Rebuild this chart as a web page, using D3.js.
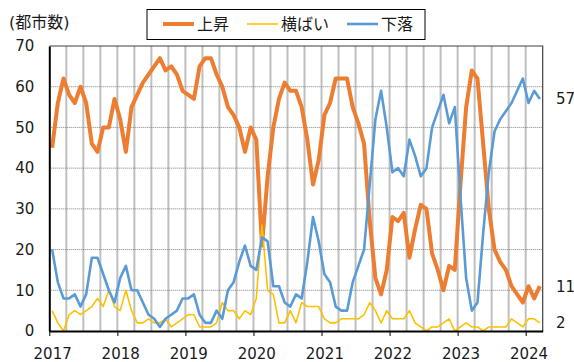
<!DOCTYPE html>
<html>
<head>
<meta charset="utf-8">
<script src="https://cdn.jsdelivr.net/npm/d3@7"></script>
<style>
body { margin: 0; background: #fff; }
text { font-family: 'DejaVu Sans', 'Noto Sans CJK JP', sans-serif; fill: #1a1a1a; }
</style>
</head>
<body>
<svg width="574" height="362"></svg>
<script>

// monthly, Jan 2017 - Mar 2024 (70 cities)
let years = ['2017', '2018', '2019', '2020', '2021', '2022', '2023', '2024'];
let yTicks = [0, 10, 20, 30, 40, 50, 60, 70];
let names = ['上昇', '横ばい', '下落'];

let up = [45, 56, 62, 58, 56, 60, 56, 46, 44, 50, 50, 57,
    52, 44, 55, 58, 61, 63, 65, 67, 64, 65, 63, 59,
    58, 57, 65, 67, 67, 63, 60, 55, 53, 50, 44, 50,
    47, 21, 38, 50, 57, 61, 59, 59, 55, 47, 36, 42,
    53, 56, 62, 62, 62, 55, 51, 46, 27, 13, 9, 15,
    28, 27, 29, 18, 25, 31, 30, 19, 15, 10, 16, 15,
    36, 55, 64, 62, 46, 30, 20, 17, 15, 11, 9, 7,
    11, 8, 11];

let flat = [5, 2, 0, 4, 5, 4, 5, 6, 8, 6, 10, 6,
    5, 10, 5, 2, 2, 3, 2, 2, 3, 1, 2, 3,
    4, 4, 1, 1, 1, 2, 7, 5, 5, 3, 5, 4,
    8, 26, 10, 9, 2, 2, 5, 2, 7, 6, 6, 6,
    3, 2, 2, 3, 3, 3, 3, 4, 7, 5, 2, 5,
    3, 3, 3, 5, 2, 1, 0, 1, 1, 2, 3, 0,
    1, 2, 1, 1, 0, 1, 1, 1, 1, 3, 2, 1,
    3, 3, 2];

let down = [20, 12, 8, 8, 9, 6, 9, 18, 18, 14, 10, 7,
    13, 16, 10, 10, 7, 4, 3, 1, 3, 4, 5, 8,
    8, 9, 4, 2, 2, 5, 3, 10, 12, 17, 21, 16,
    15, 23, 22, 11, 11, 7, 6, 9, 8, 17, 28, 22,
    14, 12, 6, 5, 5, 12, 16, 20, 36, 52, 59, 50,
    39, 40, 38, 47, 43, 38, 40, 50, 54, 58, 51, 55,
    33, 13, 5, 7, 24, 39, 49, 52, 54, 56, 59, 62,
    56, 59, 57];

let svg = d3.select('svg');

let margin = { top: 46, right: 31.3, bottom: 31, left: 49.3 };
let width = +svg.attr('width');
let height = +svg.attr('height');

let x = d3.scaleLinear()
    .domain([0, up.length])
    .range([margin.left, width - margin.right]);

let y = d3.scaleLinear()
    .domain([0, 70])
    .range([height - margin.bottom, margin.top]);

// vertical grid every 3 months
svg.append('g')
    .selectAll('line')
    .data(d3.range(3, up.length, 3))
    .enter().append('line')
    .attr('x1', d => x(d)).attr('x2', d => x(d))
    .attr('y1', y(0)).attr('y2', y(70))
    .style('stroke', '#bfbfbf')
    .style('stroke-width', 2);

// horizontal dotted grid
svg.append('g')
    .selectAll('line')
    .data(yTicks.slice(1, -1))
    .enter().append('line')
    .attr('x1', x(0)).attr('x2', x(up.length))
    .attr('y1', d => y(d)).attr('y2', d => y(d))
    .style('stroke', '#7f7f7f')
    .style('stroke-width', 1)
    .style('stroke-dasharray', '1,1');

// top and right border
svg.append('path')
    .attr('d', 'M' + x(0) + ',' + y(70) + 'H' + x(up.length) + 'V' + y(0))
    .style('fill', 'none')
    .style('stroke', '#404040')
    .style('stroke-width', 1.2);

let line = d3.line()
    .x((d, i) => x(i + 0.5))
    .y(d => y(d));

let series = [
    { values: up, color: '#ed7d31', w: 4 },
    { values: flat, color: '#ffc000', w: 1.6 },
    { values: down, color: '#5b9bd5', w: 2.6 }
];

svg.append('g')
    .selectAll('path')
    .data(series)
    .enter().append('path')
    .attr('d', d => line(d.values))
    .style('fill', 'none')
    .style('stroke', d => d.color)
    .style('stroke-width', d => d.w)
    .style('stroke-linejoin', 'round');

// y axis
let yAxis = svg.append('g')
    .attr('transform', 'translate(' + x(0) + ',0)')
    .call(d3.axisLeft(y).tickValues(yTicks).tickSize(0).tickPadding(15));
yAxis.select('.domain').style('stroke', '#000').style('stroke-width', 2);
yAxis.selectAll('text').style('font-size', '15px').style('font-family', null).attr('fill', '#1a1a1a');

// x axis
let xAxis = svg.append('g')
    .attr('transform', 'translate(0,' + y(0) + ')')
    .call(d3.axisBottom(x)
        .tickValues(years.map((d, i) => i * 12))
        .tickSize(5)
        .tickSizeOuter(0)
        .tickPadding(12)
        .tickFormat((d, i) => years[i]));
xAxis.select('.domain').style('stroke', '#000').style('stroke-width', 2);
xAxis.selectAll('line').style('stroke', '#000');
xAxis.selectAll('text')
    .attr('x', x(0.5) - x(0))
    .style('font-size', '15px').style('font-family', null).attr('fill', '#1a1a1a');

// unit label
svg.append('text')
    .attr('x', 9)
    .attr('y', 28)
    .style('font-size', '16px')
    .text('(都市数)');

// latest values at the right
svg.append('g')
    .selectAll('text')
    .data([down, up, flat])
    .enter().append('text')
    .attr('x', 556)
    .attr('y', d => y(d[d.length - 1]))
    .attr('dy', '0.36em')
    .style('font-size', '15px')
    .text(d => d[d.length - 1]);

// legend
let legend = svg.append('g');
legend.append('rect')
    .attr('x', 147).attr('y', 9.5)
    .attr('width', 278).attr('height', 30)
    .style('fill', '#fff')
    .style('stroke', '#000')
    .style('stroke-width', 1);

let legX = [163, 247, 347];
let item = legend.selectAll('g.item')
    .data(series)
    .enter().append('g')
    .attr('class', 'item')
    .attr('transform', (d, i) => 'translate(' + legX[i] + ',24)');
item.append('line')
    .attr('x1', 0).attr('x2', 31)
    .style('stroke', d => d.color)
    .style('stroke-width', d => d.w);
item.append('text')
    .attr('x', 34)
    .attr('y', 5.5)
    .style('font-size', '16px')
    .text((d, i) => names[i]);

</script>
</body>
</html>
